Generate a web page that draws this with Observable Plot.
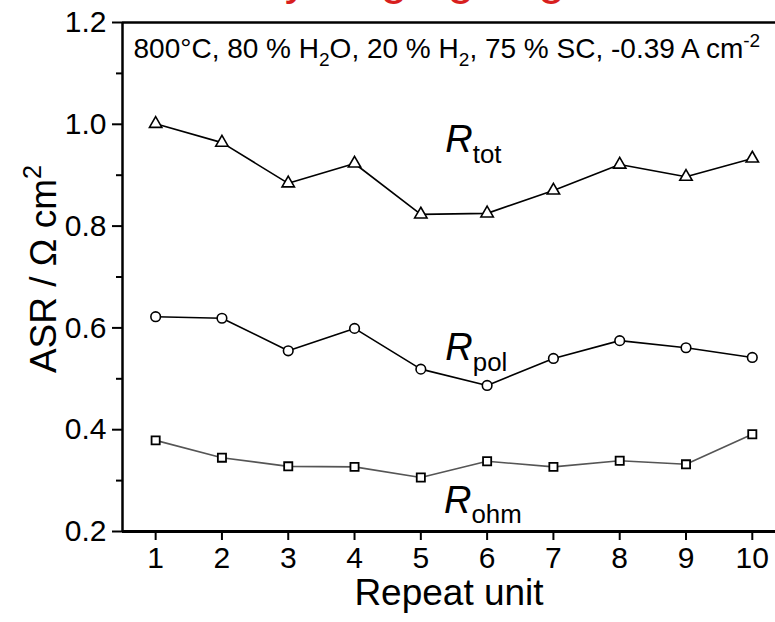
<!DOCTYPE html>
<html>
<head>
<meta charset="utf-8">
<script src="https://cdn.jsdelivr.net/npm/d3@7"></script>
<script src="https://cdn.jsdelivr.net/npm/@observablehq/plot@0.6"></script>
<style>
  html, body { margin: 0; padding: 0; background: #fff; }
  #wrap { position: relative; width: 775px; height: 622px; overflow: hidden; }
  #banner { position: absolute; left: 250px; top: -50px; font: 48px "Liberation Sans", Arial, sans-serif; line-height: 56px; color: #d81e1e; white-space: nowrap; }
  #chart { position: absolute; left: 0; top: 0; }
</style>
</head>
<body>
<div id="wrap">
  <div id="banner">Cycling ageing ↘</div>
  <div id="chart"></div>
</div>
<script>
// ---- data ----
const units = [1, 2, 3, 4, 5, 6, 7, 8, 9, 10];
const rTot = [1.001, 0.964, 0.884, 0.923, 0.823, 0.825, 0.870, 0.921, 0.897, 0.933];
const rPol = [0.622, 0.619, 0.555, 0.599, 0.519, 0.487, 0.540, 0.575, 0.561, 0.542];
const rOhm = [0.379, 0.345, 0.328, 0.327, 0.306, 0.338, 0.327, 0.339, 0.332, 0.391];
const yMajor = [0.2, 0.4, 0.6, 0.8, 1.0, 1.2];
const yMinor = [0.3, 0.5, 0.7, 0.9, 1.1];
const seriesNames = ["tot", "pol", "ohm"];
const labelX = [5.37, 5.37, 5.35];
const labelY = [0.945, 0.537, 0.237];
const conditionText = "800°C, 80 % H_{2}O, 20 % H_{2}, 75 % SC, -0.39 A cm^{-2}";
const xTitle = "Repeat unit";
const yTitle = "ASR / Ω cm^{2}";

const tot = units.map((u, i) => ({u, v: rTot[i]}));
const pol = units.map((u, i) => ({u, v: rPol[i]}));
const ohm = units.map((u, i) => ({u, v: rOhm[i]}));
const labels = seriesNames.map((s, i) => ({text: "*R*_{" + s + "}", x: labelX[i], y: labelY[i]}));

const font = '"Liberation Sans", Arial, sans-serif';

const plot = Plot.plot({
  width: 775,
  height: 622,
  marginLeft: 122,
  marginTop: 22,
  marginBottom: 91,
  marginRight: 0,
  style: {fontFamily: font, fontSize: "30px", color: "#000", background: "transparent", overflow: "visible"},
  x: {domain: [0.5, 10.35]},
  y: {domain: [0.2, 1.2]},
  marks: [
    Plot.axisY(yMinor, {tickSize: 6, strokeWidth: 2, tickFormat: () => "", label: null}),
    Plot.axisY(yMajor, {tickSize: 10, tickPadding: 6, strokeWidth: 2, tickFormat: d3.format(".1f"), label: null, fontSize: 30}),
    Plot.axisX(units, {tickSize: 9, tickPadding: 6, strokeWidth: 2, tickFormat: d3.format("d"), label: null, fontSize: 30}),
    Plot.ruleY([1.2], {stroke: "#000", strokeWidth: 2.5}),
    Plot.ruleY([0.2], {stroke: "#000", strokeWidth: 3}),
    Plot.ruleX([0.5], {stroke: "#000", strokeWidth: 2.5}),
    Plot.line(tot, {x: "u", y: "v", stroke: "#000", strokeWidth: 1.6}),
    Plot.line(pol, {x: "u", y: "v", stroke: "#000", strokeWidth: 1.6}),
    Plot.line(ohm, {x: "u", y: "v", stroke: "#555", strokeWidth: 1.6}),
    Plot.dot(tot, {x: "u", y: "v", symbol: "triangle", r: 4.6, fill: "#fff", stroke: "#000", strokeWidth: 1.6}),
    Plot.dot(pol, {x: "u", y: "v", symbol: "circle", r: 4.8, fill: "#fff", stroke: "#000", strokeWidth: 1.6}),
    Plot.dot(ohm, {x: "u", y: "v", symbol: "square", r: 4.6, fill: "#fff", stroke: "#000", strokeWidth: 1.8}),
    Plot.text(labels, {x: "x", y: "y", text: "text", textAnchor: "start", lineAnchor: "bottom", fontSize: 38, fill: "#000"}),
    Plot.text([conditionText], {frameAnchor: "top-left", dx: 11, dy: 16, textAnchor: "start", lineAnchor: "top", fontSize: 28, fill: "#000"}),
    Plot.text([xTitle], {frameAnchor: "bottom", dy: 62, lineAnchor: "middle", fontSize: 37, fill: "#000"}),
    Plot.text([yTitle], {frameAnchor: "left", dx: -78, dy: -8, rotate: -90, textAnchor: "middle", lineAnchor: "middle", fontSize: 37, fill: "#000"})
  ]
});

document.getElementById("chart").appendChild(plot);

// convert *italic*, _{sub} and ^{sup} markup into tspans
const svgns = "http://www.w3.org/2000/svg";
d3.select(plot).selectAll("text").each(function () {
  const t = this.textContent;
  if (!/(\*[^*]+\*|[_^]\{[^}]*\})/.test(t)) return;
  const cs = getComputedStyle(this);
  const fs = parseFloat(cs.fontSize) || 30;
  const centered = t === yTitle;
  while (this.firstChild) this.removeChild(this.firstChild);
  const parts = t.split(/(\*[^*]+\*|[_^]\{[^}]*\})/);
  let shift = 0;
  const spans = [];
  for (const p of parts) {
    if (!p) continue;
    const ts = document.createElementNS(svgns, "tspan");
    let target = 0, content = p, size = null, italic = false;
    if (p.startsWith("_{")) { target = 0.28 * fs; content = p.slice(2, -1); size = 0.68 * fs; }
    else if (p.startsWith("^{")) { target = -0.42 * fs; content = p.slice(2, -1); size = 0.68 * fs; }
    else if (p.startsWith("*")) { content = p.slice(1, -1); italic = true; }
    if (target - shift !== 0) ts.setAttribute("dy", target - shift);
    shift = target;
    if (size) ts.setAttribute("font-size", size);
    if (italic) ts.setAttribute("font-style", "italic");
    ts.textContent = content;
    this.appendChild(ts);
    spans.push(ts);
  }
  if (centered) {
    this.setAttribute("text-anchor", "start");
    this.style.textAnchor = "start";
    let len = 0;
    try { len = this.getComputedTextLength(); } catch (e) {}
    if (!len) { try { len = this.getBBox().width; } catch (e) {} }
    if (!len) len = 205;
    spans[0].setAttribute("dx", -len / 2);
  }
});
</script>
</body>
</html>
